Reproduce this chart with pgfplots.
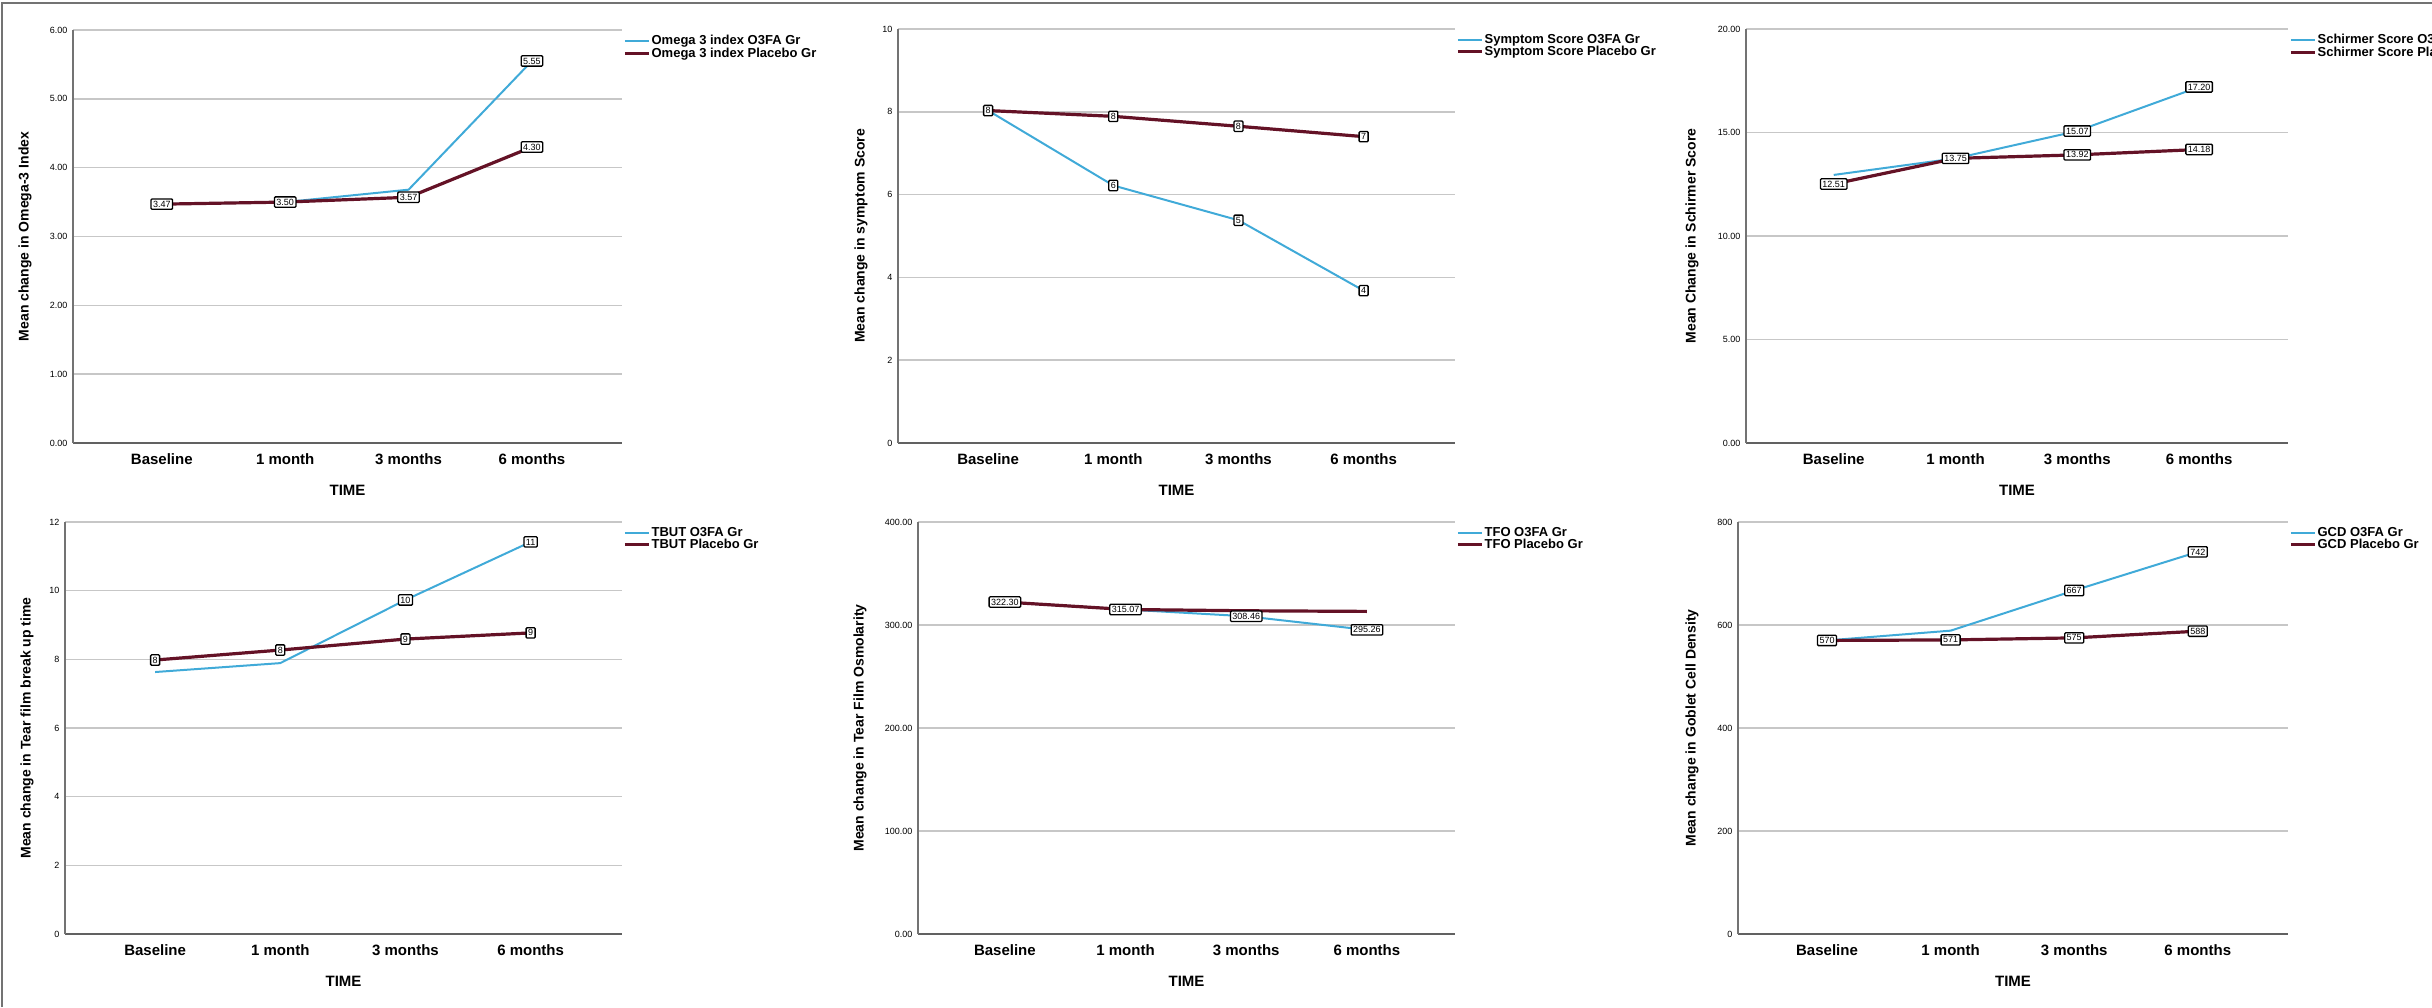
\documentclass[border=0pt]{standalone}
\usepackage{pgfplots}
\pgfplotsset{compat=1.18}
\usepackage{fontspec}
\setmainfont{Liberation Sans}
\definecolor{oblue}{RGB}{64,170,216}
\definecolor{omaroon}{RGB}{100,18,38}
\pgfplotsset{
  panel/.style={
    scale only axis, clip=false,
    xmin=-0.72, xmax=3.73, ymin=0,
    xtick={0,1,2,3}, xticklabels={Baseline,1 month,3 months,6 months},
    ymajorgrids, grid style={line width=1.6pt, color=black!22},
    axis x line*=bottom, axis y line*=left,
    x axis line style={line width=2.6pt, color=black!62, -},
    y axis line style={line width=1.6pt, color=black!55, -},
    major tick length=0pt,
    /pgf/number format/assume math mode=true,
    xticklabel style={font=\bfseries\fontsize{15}{15}\selectfont, anchor=center, yshift=-16pt},
    yticklabel style={font=\fontsize{9}{9}\selectfont, anchor=east, xshift=-2pt},
    xlabel={TIME},
    xlabel style={at={(axis description cs:0.5,0)}, anchor=center, yshift=-47pt, font=\bfseries\fontsize{15}{15}\selectfont},
    ylabel style={anchor=center, font=\bfseries\fontsize{14}{14}\selectfont},
    legend style={draw=none, fill=none, at={(axis description cs:1,1)}, anchor=north west,
      xshift=1pt, yshift=-4pt, font=\bfseries\fontsize{13}{14}\selectfont, inner sep=0pt,
      nodes={inner sep=1.2pt}, row sep=-1pt},
    legend cell align=left,
    legend image code/.code={\draw[#1] (0pt,0pt) -- (24pt,0pt);},
  },
  o3/.style={color=oblue, line width=2pt, mark=none},
  pl/.style={color=omaroon, line width=3.2pt, mark=none},
  lab/.style={draw=none, mark=none, forget plot, nodes near coords, point meta=explicit symbolic,
    every node near coord/.style={draw=black, line width=1.3pt, fill=white,
      rounded corners=1pt, inner sep=2pt, font=\fontsize{9}{9}\selectfont, anchor=center}},
}
\begin{document}
\begin{tikzpicture}
% Panel 1: Omega-3 index
\begin{axis}[panel, at={(73pt,564pt)}, anchor=south west, width=549pt, height=413pt,
  ymax=6, ytick={0,1,2,3,4,5,6},
  yticklabel style={/pgf/number format/.cd, fixed, fixed zerofill, precision=2},
  ylabel={Mean change in Omega-3 Index},
  ylabel style={at={([xshift=-48pt]axis description cs:0,0.5)}}]
\addplot[o3] coordinates {(0,3.47) (1,3.50) (2,3.68) (3,5.55)};
\addplot[pl] coordinates {(0,3.47) (1,3.50) (2,3.57) (3,4.30)};
\legend{Omega 3 index O3FA Gr, Omega 3 index Placebo Gr}
\addplot[lab] coordinates {(0,3.47)[3.47] (1,3.50)[3.50] (2,3.57)[3.57] (3,5.55)[5.55] (3,4.30)[4.30]};
\end{axis}
% Panel 2: Symptom score
\begin{axis}[panel, at={(898pt,564pt)}, anchor=south west, width=557pt, height=414pt,
  ymax=10, ytick={0,2,4,6,8,10},
  ylabel={Mean change in symptom Score},
  ylabel style={at={([xshift=-37pt]axis description cs:0,0.5)}}]
\addplot[o3] coordinates {(0,8.03) (1,6.22) (2,5.38) (3,3.68)};
\addplot[pl] coordinates {(0,8.03) (1,7.89) (2,7.65) (3,7.40)};
\legend{Symptom Score O3FA Gr, Symptom Score Placebo Gr}
\addplot[lab] coordinates {(0,8.03)[8] (1,7.89)[8] (2,7.65)[8] (3,7.40)[7] (1,6.22)[6] (2,5.38)[5] (3,3.68)[4]};
\end{axis}
% Panel 3: Schirmer score
\begin{axis}[panel, at={(1746pt,564pt)}, anchor=south west, width=542pt, height=414pt,
  ymax=20, ytick={0,5,10,15,20},
  yticklabel style={/pgf/number format/.cd, fixed, fixed zerofill, precision=2},
  ylabel={Mean Change in Schirmer Score},
  ylabel style={at={([xshift=-54pt]axis description cs:0,0.5)}}]
\addplot[o3] coordinates {(0,12.95) (1,13.75) (2,15.07) (3,17.20)};
\addplot[pl] coordinates {(0,12.51) (1,13.75) (2,13.92) (3,14.18)};
\legend{Schirmer Score O3FA Gr, Schirmer Score Placebo Gr}
\addplot[lab] coordinates {(0,12.51)[12.51] (1,13.75)[13.75] (2,15.07)[15.07] (2,13.92)[13.92] (3,17.20)[17.20] (3,14.18)[14.18]};
\end{axis}
% Panel 4: TBUT
\begin{axis}[panel, at={(65pt,73pt)}, anchor=south west, width=557pt, height=412pt,
  ymax=12, ytick={0,2,4,6,8,10,12},
  ylabel={Mean change in Tear film break up time},
  ylabel style={at={([xshift=-38pt]axis description cs:0,0.5)}}]
\addplot[o3] coordinates {(0,7.63) (1,7.89) (2,9.73) (3,11.42)};
\addplot[pl] coordinates {(0,7.98) (1,8.27) (2,8.59) (3,8.77)};
\legend{TBUT O3FA Gr, TBUT Placebo Gr}
\addplot[lab] coordinates {(0,7.98)[8] (1,8.27)[8] (2,8.59)[9] (3,8.77)[9] (2,9.73)[10] (3,11.42)[11]};
\end{axis}
% Panel 5: TFO
\begin{axis}[panel, at={(918pt,73pt)}, anchor=south west, width=537pt, height=412pt,
  ymax=400, ytick={0,100,200,300,400},
  yticklabel style={/pgf/number format/.cd, fixed, fixed zerofill, precision=2},
  ylabel={Mean change in Tear Film Osmolarity},
  ylabel style={at={([xshift=-58pt]axis description cs:0,0.5)}}]
\addplot[o3] coordinates {(0,322.30) (1,315.07) (2,308.46) (3,295.26)};
\addplot[pl] coordinates {(0,322.30) (1,315.07) (2,313.8) (3,313.2)};
\legend{TFO O3FA Gr, TFO Placebo Gr}
\addplot[lab] coordinates {(0,322.30)[322.30] (1,315.07)[315.07] (2,308.46)[308.46] (3,295.26)[295.26]};
\end{axis}
% Panel 6: GCD
\begin{axis}[panel, at={(1738pt,73pt)}, anchor=south west, width=550pt, height=412pt,
  ymax=800, ytick={0,200,400,600,800},
  ylabel={Mean change in Goblet Cell Density},
  ylabel style={at={([xshift=-46pt]axis description cs:0,0.5)}}]
\addplot[o3] coordinates {(0,570) (1,589) (2,667) (3,742)};
\addplot[pl] coordinates {(0,570) (1,571) (2,575) (3,588)};
\legend{GCD O3FA Gr, GCD Placebo Gr}
\addplot[lab] coordinates {(0,570)[570] (1,571)[571] (2,575)[575] (3,588)[588] (2,667)[667] (3,742)[742]};
\end{axis}
% outer frame (left and top edges)
\draw[line width=2pt, black!55] (1.5pt,0pt) -- (1.5pt,1004pt) -- (2432pt,1004pt);
\pgfresetboundingbox
\path[use as bounding box] (0pt,0pt) rectangle (2432pt,1007pt);
\end{tikzpicture}
\end{document}
